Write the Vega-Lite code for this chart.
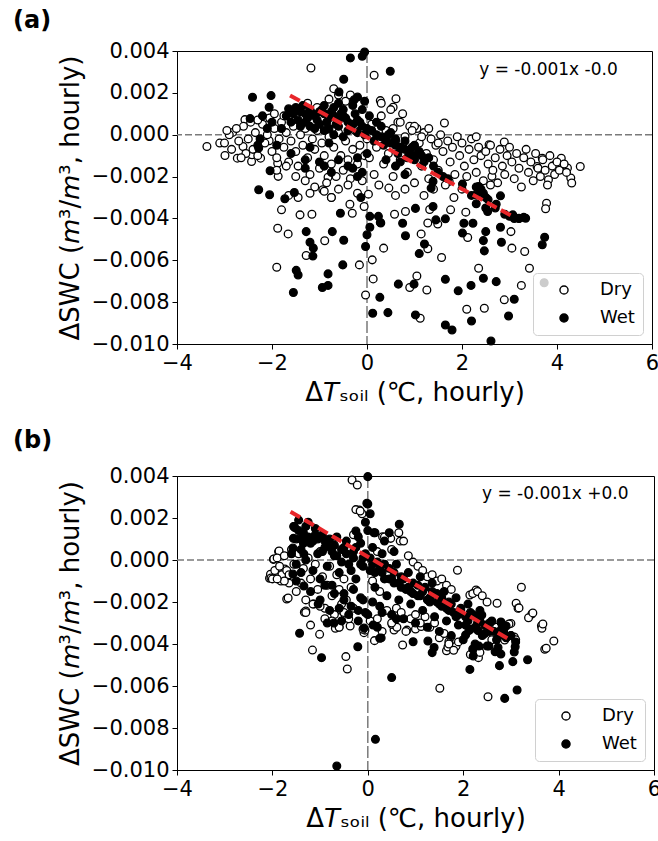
{
"$schema": "https://vega.github.io/schema/vega-lite/v6.json",
"padding": {"left": 12, "top": 8, "right": 0, "bottom": 2},
"config": {
 "font": "DejaVu Sans",
 "view": {"stroke": "black", "strokeWidth": 1},
 "axis": {"labelFont": "DejaVu Sans", "labelFontSize": 21, "labelColor": "black", "titleFont": "DejaVu Sans", "titleFontSize": 26, "titleFontWeight": "normal", "titleColor": "black", "domainColor": "black", "tickColor": "black", "tickSize": 5, "gridColor": "#b8b8b8", "gridDash": [2, 2], "gridWidth": 0.8, "labelPadding": 3, "labelFlush": false, "labelOverlap": false},
 "legend": {"orient": "bottom-right", "offset": 9, "title": null, "fillColor": "rgba(255,255,255,0.8)", "strokeColor": "#d0d0d0", "cornerRadius": 4, "padding": 8, "rowPadding": 10, "labelFont": "DejaVu Sans", "labelFontSize": 18, "labelColor": "black", "symbolType": "circle", "symbolSize": 66, "symbolStrokeColor": "black", "symbolStrokeWidth": 1.4, "symbolOffset": 14, "labelOffset": 27},
 "title": {"font": "DejaVu Sans", "fontSize": 24, "fontWeight": "bold", "anchor": "start", "frame": "group", "color": "black"}
},
"datasets": {
 "a": [
 {"g":"Dry","x":-3.37,"y":-0.00056},{"g":"Dry","x":-3.1,"y":-0.0004},{"g":"Dry","x":-2.99,"y":-0.00099},{"g":"Dry","x":-2.83,"y":0.00011},{"g":"Dry","x":-2.73,"y":-0.00112},{"g":"Dry","x":-2.61,"y":-0.00056},{"g":"Dry","x":-2.57,"y":0.00072},{"g":"Dry","x":-2.43,"y":-0.00128},{"g":"Dry","x":-2.42,"y":-0.00096},{"g":"Dry","x":-2.24,"y":-0.00112},{"g":"Dry","x":-2.17,"y":0.0008},{"g":"Dry","x":-2.06,"y":-0.00029},{"g":"Dry","x":-1.87,"y":-0.00199},{"g":"Dry","x":-1.88,"y":-0.00136},{"g":"Dry","x":-1.8,"y":-0.00359},{"g":"Dry","x":-1.88,"y":-0.00447},{"g":"Dry","x":-1.66,"y":-0.00474},{"g":"Dry","x":-1.9,"y":-0.00633},{"g":"Dry","x":-1.41,"y":-0.00383},{"g":"Dry","x":-1.16,"y":-0.0038},{"g":"Dry","x":-1.28,"y":-0.00577},{"g":"Dry","x":-0.89,"y":-0.00507},{"g":"Dry","x":-1.18,"y":0.00319},{"g":"Dry","x":-0.93,"y":-0.00263},{"g":"Dry","x":-0.75,"y":-0.003},{"g":"Dry","x":-0.82,"y":-0.00203},{"g":"Dry","x":-0.36,"y":-0.00332},{"g":"Dry","x":-0.31,"y":-0.00375},{"g":"Dry","x":-0.16,"y":-0.00622},{"g":"Dry","x":-0.03,"y":-0.00766},{"g":"Dry","x":0.03,"y":-0.00284},{"g":"Dry","x":-0.06,"y":-0.00343},{"g":"Dry","x":0.15,"y":0.00284},{"g":"Dry","x":0.28,"y":0.00163},{"g":"Dry","x":0.61,"y":0.00172},{"g":"Dry","x":0.55,"y":0.00131},{"g":"Dry","x":0.35,"y":-0.00542},{"g":"Dry","x":0.11,"y":-0.00598},{"g":"Dry","x":0.13,"y":-0.00689},{"g":"Dry","x":0.46,"y":-0.00255},{"g":"Dry","x":0.58,"y":-0.0038},{"g":"Dry","x":0.81,"y":-0.00367},{"g":"Dry","x":0.9,"y":-0.0073},{"g":"Dry","x":1.12,"y":-0.00877},{"g":"Dry","x":1.14,"y":-0.00474},{"g":"Dry","x":1.28,"y":-0.00545},{"g":"Dry","x":1.26,"y":-0.00742},{"g":"Dry","x":1.32,"y":-0.00357},{"g":"Dry","x":1.57,"y":-0.00587},{"g":"Dry","x":1.63,"y":0.00056},{"g":"Dry","x":1.73,"y":-0.00223},{"g":"Dry","x":1.83,"y":-0.003},{"g":"Dry","x":1.76,"y":-0.00359},{"g":"Dry","x":2.08,"y":-0.0037},{"g":"Dry","x":2.12,"y":-0.00491},{"g":"Dry","x":2.1,"y":-0.00834},{"g":"Dry","x":2.35,"y":-0.00638},{"g":"Dry","x":2.47,"y":-0.00829},{"g":"Dry","x":2.57,"y":-0.00048},{"g":"Dry","x":2.63,"y":-0.00199},{"g":"Dry","x":2.89,"y":-0.00035},{"g":"Dry","x":2.89,"y":-0.00789},{"g":"Dry","x":3.03,"y":-0.00463},{"g":"Dry","x":3.05,"y":-0.00542},{"g":"Dry","x":3.25,"y":-0.0072},{"g":"Dry","x":3.32,"y":-0.00558},{"g":"Dry","x":3.42,"y":-0.00638},{"g":"Dry","x":3.58,"y":-0.00152},{"g":"Dry","x":3.78,"y":-0.00327},{"g":"Dry","x":3.76,"y":-0.00354},{"g":"Dry","x":4.09,"y":-0.00112},{"g":"Dry","x":4.22,"y":-0.00159},{"g":"Dry","x":4.29,"y":-0.00207},{"g":"Dry","x":4.31,"y":-0.00231},{"g":"Dry","x":4.49,"y":-0.00152},{"g":"Dry","x":3.82,"y":-0.00215},{"g":"Dry","x":3.69,"y":-0.00112},{"g":"Dry","x":3.96,"y":-0.00144},{"g":"Dry","x":1.28,"y":-0.00422},{"g":"Dry","x":1.49,"y":-0.00427},{"g":"Dry","x":1.05,"y":-0.00675},
 {"g":"Dry","x":-2.9,"y":0.0},{"g":"Dry","x":-2.7,"y":-0.0003},{"g":"Dry","x":-2.6,"y":0.0004},{"g":"Dry","x":-2.5,"y":-0.0002},{"g":"Dry","x":-2.45,"y":0.0006},{"g":"Dry","x":-2.4,"y":-0.0007},{"g":"Dry","x":-2.35,"y":0.0001},{"g":"Dry","x":-2.3,"y":-0.001},{"g":"Dry","x":-2.2,"y":0.0005},{"g":"Dry","x":-2.15,"y":-0.0004},{"g":"Dry","x":-2.1,"y":0.0},{"g":"Dry","x":-2.0,"y":-0.0008},{"g":"Dry","x":-1.95,"y":0.0003},{"g":"Dry","x":-1.9,"y":-0.0011},{"g":"Dry","x":-1.85,"y":-0.0002},{"g":"Dry","x":-1.8,"y":0.0006},{"g":"Dry","x":-1.75,"y":-0.0006},{"g":"Dry","x":-1.7,"y":0.0001},{"g":"Dry","x":-1.65,"y":-0.0013},{"g":"Dry","x":-1.6,"y":-0.0003},{"g":"Dry","x":-1.55,"y":0.0004},{"g":"Dry","x":-1.5,"y":-0.0008},{"g":"Dry","x":-1.45,"y":-0.0015},{"g":"Dry","x":-1.4,"y":0.0},{"g":"Dry","x":-1.35,"y":-0.0005},{"g":"Dry","x":-1.3,"y":0.0003},{"g":"Dry","x":-1.25,"y":-0.0011},{"g":"Dry","x":-1.2,"y":-0.0019},{"g":"Dry","x":-1.15,"y":-0.0002},{"g":"Dry","x":-1.1,"y":-0.0007},{"g":"Dry","x":-1.05,"y":0.0002},{"g":"Dry","x":-1.0,"y":-0.0016},{"g":"Dry","x":-0.95,"y":-0.0004},{"g":"Dry","x":-0.9,"y":-0.001},{"g":"Dry","x":-0.85,"y":-0.0023},{"g":"Dry","x":-0.8,"y":-0.0001},{"g":"Dry","x":-0.75,"y":-0.0014},{"g":"Dry","x":-0.7,"y":-0.0006},{"g":"Dry","x":-0.65,"y":-0.002},{"g":"Dry","x":-0.6,"y":0.0001},{"g":"Dry","x":-0.55,"y":-0.001},{"g":"Dry","x":-0.5,"y":-0.0017},{"g":"Dry","x":-0.45,"y":-0.0003},{"g":"Dry","x":-0.4,"y":-0.0012},{"g":"Dry","x":-0.35,"y":-0.0021},{"g":"Dry","x":-0.3,"y":-0.0007},{"g":"Dry","x":-0.25,"y":0.0002},{"g":"Dry","x":-0.2,"y":-0.0014},{"g":"Dry","x":-0.15,"y":-0.0005},{"g":"Dry","x":-0.1,"y":-0.0022},{"g":"Dry","x":-0.05,"y":-0.001},{"g":"Dry","x":0.0,"y":-0.0002},{"g":"Dry","x":-2.55,"y":-0.0009},{"g":"Dry","x":-2.75,"y":0.0003},{"g":"Dry","x":-2.85,"y":-0.0007},{"g":"Dry","x":-3.0,"y":-0.0004},{"g":"Dry","x":-2.95,"y":0.0002},{"g":"Dry","x":-2.65,"y":-0.0011},{"g":"Dry","x":-2.3,"y":0.0007},{"g":"Dry","x":-2.05,"y":0.0008},{"g":"Dry","x":-1.95,"y":0.001},{"g":"Dry","x":-1.75,"y":0.0009},{"g":"Dry","x":-1.6,"y":0.0011},{"g":"Dry","x":-1.25,"y":0.0015},{"g":"Dry","x":-1.05,"y":0.0013},{"g":"Dry","x":-0.8,"y":0.0017},{"g":"Dry","x":-0.6,"y":0.0019},{"g":"Dry","x":-0.45,"y":0.0016},{"g":"Dry","x":-0.7,"y":0.0022},{"g":"Dry","x":-0.35,"y":0.0019},{"g":"Dry","x":-1.9,"y":-0.0017},{"g":"Dry","x":-1.7,"y":-0.0015},{"g":"Dry","x":-1.5,"y":-0.002},{"g":"Dry","x":-1.3,"y":-0.0022},{"g":"Dry","x":-1.1,"y":-0.0025},{"g":"Dry","x":-0.9,"y":-0.0027},{"g":"Dry","x":-0.6,"y":-0.0026},{"g":"Dry","x":-0.4,"y":-0.0024},{"g":"Dry","x":-0.2,"y":-0.0028},{"g":"Dry","x":-1.65,"y":-0.0029},{"g":"Dry","x":-1.45,"y":-0.003},{"g":"Dry","x":-0.75,"y":-0.003},{"g":"Dry","x":-1.2,"y":-0.0028},
 {"g":"Dry","x":0.1,"y":0.0005},{"g":"Dry","x":0.2,"y":-0.0006},{"g":"Dry","x":0.3,"y":0.0009},{"g":"Dry","x":0.35,"y":-0.0014},{"g":"Dry","x":0.4,"y":0.0002},{"g":"Dry","x":0.45,"y":-0.0009},{"g":"Dry","x":0.5,"y":0.0012},{"g":"Dry","x":0.55,"y":-0.002},{"g":"Dry","x":0.6,"y":-0.0003},{"g":"Dry","x":0.65,"y":0.0006},{"g":"Dry","x":0.7,"y":-0.0012},{"g":"Dry","x":0.75,"y":0.001},{"g":"Dry","x":0.8,"y":-0.0001},{"g":"Dry","x":0.85,"y":-0.0018},{"g":"Dry","x":0.9,"y":0.0004},{"g":"Dry","x":0.95,"y":-0.0008},{"g":"Dry","x":1.0,"y":-0.0023},{"g":"Dry","x":1.05,"y":0.0003},{"g":"Dry","x":1.1,"y":-0.0004},{"g":"Dry","x":1.15,"y":-0.0015},{"g":"Dry","x":1.2,"y":0.0001},{"g":"Dry","x":1.25,"y":-0.0009},{"g":"Dry","x":1.3,"y":-0.0021},{"g":"Dry","x":1.35,"y":-0.0002},{"g":"Dry","x":1.4,"y":-0.0012},{"g":"Dry","x":1.45,"y":-0.0005},{"g":"Dry","x":1.5,"y":-0.0017},{"g":"Dry","x":1.55,"y":0.0},{"g":"Dry","x":1.6,"y":-0.0008},{"g":"Dry","x":1.65,"y":-0.0024},{"g":"Dry","x":1.7,"y":-0.0003},{"g":"Dry","x":1.75,"y":-0.0013},{"g":"Dry","x":1.8,"y":-0.0006},{"g":"Dry","x":1.85,"y":-0.0019},{"g":"Dry","x":1.9,"y":-0.0001},{"g":"Dry","x":1.95,"y":-0.001},{"g":"Dry","x":2.0,"y":-0.0004},{"g":"Dry","x":2.05,"y":-0.0015},{"g":"Dry","x":2.1,"y":-0.002},{"g":"Dry","x":2.15,"y":-0.0007},{"g":"Dry","x":2.2,"y":-0.0002},{"g":"Dry","x":2.25,"y":-0.0012},{"g":"Dry","x":2.3,"y":-0.0018},{"g":"Dry","x":2.35,"y":-0.0006},{"g":"Dry","x":2.4,"y":-0.001},{"g":"Dry","x":2.45,"y":-0.0022},{"g":"Dry","x":2.5,"y":-0.0008},{"g":"Dry","x":2.55,"y":-0.0014},{"g":"Dry","x":2.6,"y":-0.0005},{"g":"Dry","x":2.65,"y":-0.0017},{"g":"Dry","x":2.7,"y":-0.0011},{"g":"Dry","x":2.75,"y":-0.0023},{"g":"Dry","x":2.8,"y":-0.0007},{"g":"Dry","x":2.85,"y":-0.0015},{"g":"Dry","x":2.9,"y":-0.0019},{"g":"Dry","x":2.95,"y":-0.001},{"g":"Dry","x":3.0,"y":-0.0006},{"g":"Dry","x":3.05,"y":-0.0013},{"g":"Dry","x":3.1,"y":-0.0021},{"g":"Dry","x":3.15,"y":-0.0009},{"g":"Dry","x":3.2,"y":-0.0016},{"g":"Dry","x":3.25,"y":-0.0025},{"g":"Dry","x":3.3,"y":-0.0011},{"g":"Dry","x":3.35,"y":-0.0007},{"g":"Dry","x":3.4,"y":-0.0018},{"g":"Dry","x":3.45,"y":-0.0013},{"g":"Dry","x":3.5,"y":-0.0022},{"g":"Dry","x":3.55,"y":-0.0009},{"g":"Dry","x":3.6,"y":-0.0016},{"g":"Dry","x":3.65,"y":-0.002},{"g":"Dry","x":3.7,"y":-0.0012},{"g":"Dry","x":3.75,"y":-0.0017},{"g":"Dry","x":3.8,"y":-0.0024},{"g":"Dry","x":3.85,"y":-0.001},{"g":"Dry","x":3.9,"y":-0.0015},{"g":"Dry","x":3.95,"y":-0.0019},{"g":"Dry","x":4.0,"y":-0.0013},{"g":"Dry","x":4.05,"y":-0.0017},{"g":"Dry","x":4.15,"y":-0.0014},{"g":"Dry","x":4.2,"y":-0.0018},{"g":"Dry","x":0.3,"y":0.0015},{"g":"Dry","x":0.7,"y":0.0006},{"g":"Dry","x":0.55,"y":0.0003},{"g":"Dry","x":1.0,"y":0.0004},{"g":"Dry","x":1.15,"y":-0.0001},{"g":"Dry","x":0.15,"y":-0.0019},{"g":"Dry","x":0.25,"y":-0.0024},{"g":"Dry","x":0.05,"y":-0.0011},{"g":"Dry","x":2.0,"y":-0.0026},{"g":"Dry","x":2.6,"y":-0.0024},{"g":"Dry","x":1.4,"y":-0.0026},{"g":"Dry","x":0.8,"y":-0.0026},{"g":"Dry","x":0.6,"y":-0.0029},{"g":"Dry","x":1.2,"y":-0.0029},{"g":"Dry","x":1.5,"y":-0.0004},{"g":"Dry","x":0.95,"y":0.0002},{"g":"Dry","x":1.3,"y":0.0003},{"g":"Dry","x":2.3,"y":-0.0001},
 {"g":"Wet","x":-0.35,"y":0.00367},{"g":"Wet","x":-0.1,"y":0.00375},{"g":"Wet","x":-0.05,"y":0.00395},{"g":"Wet","x":0.49,"y":0.00303},{"g":"Wet","x":-0.49,"y":0.00265},{"g":"Wet","x":-0.59,"y":0.00204},{"g":"Wet","x":-2.41,"y":0.00179},{"g":"Wet","x":-2.02,"y":0.00187},{"g":"Wet","x":-0.27,"y":0.00167},{"g":"Wet","x":-2.46,"y":0.00077},{"g":"Wet","x":-2.06,"y":0.00131},{"g":"Wet","x":-1.65,"y":0.00124},{"g":"Wet","x":-2.28,"y":-0.00064},{"g":"Wet","x":-2.04,"y":-0.00172},{"g":"Wet","x":-2.28,"y":-0.00263},{"g":"Wet","x":-2.05,"y":-0.00287},{"g":"Wet","x":-1.73,"y":-0.00306},{"g":"Wet","x":-1.53,"y":-0.00276},{"g":"Wet","x":-1.28,"y":-0.00463},{"g":"Wet","x":-1.2,"y":-0.00514},{"g":"Wet","x":-1.13,"y":-0.00542},{"g":"Wet","x":-1.14,"y":-0.0058},{"g":"Wet","x":-0.73,"y":-0.00463},{"g":"Wet","x":-1.49,"y":-0.00648},{"g":"Wet","x":-1.45,"y":-0.0067},{"g":"Wet","x":-1.55,"y":-0.00754},{"g":"Wet","x":-0.94,"y":-0.0073},{"g":"Wet","x":-0.82,"y":-0.0072},{"g":"Wet","x":-0.82,"y":-0.00665},{"g":"Wet","x":-0.51,"y":-0.00622},{"g":"Wet","x":-0.49,"y":-0.00504},{"g":"Wet","x":-0.56,"y":-0.00375},{"g":"Wet","x":-0.13,"y":-0.003},{"g":"Wet","x":-0.03,"y":-0.00534},{"g":"Wet","x":0.06,"y":-0.0039},{"g":"Wet","x":0.12,"y":-0.00853},{"g":"Wet","x":0.44,"y":-0.0085},{"g":"Wet","x":0.27,"y":-0.00777},{"g":"Wet","x":0.24,"y":-0.0039},{"g":"Wet","x":0.28,"y":-0.00419},{"g":"Wet","x":0.06,"y":-0.00442},{"g":"Wet","x":0.0,"y":-0.00478},{"g":"Wet","x":0.66,"y":-0.00714},{"g":"Wet","x":0.75,"y":-0.00423},{"g":"Wet","x":0.81,"y":-0.00483},{"g":"Wet","x":1.02,"y":-0.00352},{"g":"Wet","x":0.99,"y":-0.00714},{"g":"Wet","x":1.02,"y":-0.00861},{"g":"Wet","x":1.1,"y":-0.00568},{"g":"Wet","x":1.21,"y":-0.00522},{"g":"Wet","x":1.39,"y":-0.00343},{"g":"Wet","x":1.45,"y":-0.00407},{"g":"Wet","x":1.65,"y":-0.00402},{"g":"Wet","x":1.65,"y":-0.00691},{"g":"Wet","x":1.65,"y":-0.00909},{"g":"Wet","x":1.79,"y":-0.00933},{"g":"Wet","x":1.92,"y":-0.00746},{"g":"Wet","x":2.01,"y":-0.0047},{"g":"Wet","x":2.04,"y":-0.00423},{"g":"Wet","x":2.19,"y":-0.0072},{"g":"Wet","x":2.2,"y":-0.0089},{"g":"Wet","x":2.23,"y":-0.00423},{"g":"Wet","x":2.3,"y":-0.00287},{"g":"Wet","x":2.45,"y":-0.00506},{"g":"Wet","x":2.47,"y":-0.00555},{"g":"Wet","x":2.5,"y":-0.00463},{"g":"Wet","x":2.45,"y":-0.00686},{"g":"Wet","x":2.54,"y":-0.00367},{"g":"Wet","x":2.61,"y":-0.00986},{"g":"Wet","x":2.72,"y":-0.00702},{"g":"Wet","x":2.81,"y":-0.00442},{"g":"Wet","x":2.83,"y":-0.00514},{"g":"Wet","x":2.81,"y":-0.00292},{"g":"Wet","x":2.98,"y":-0.00866},{"g":"Wet","x":3.1,"y":-0.00786},{"g":"Wet","x":3.2,"y":-0.00399},{"g":"Wet","x":3.34,"y":-0.00399},{"g":"Wet","x":3.69,"y":-0.00526},{"g":"Wet","x":3.74,"y":-0.0049},{"g":"Wet","x":3.73,"y":-0.00707},{"g":"Wet","x":2.01,"y":-0.00236},{"g":"Wet","x":2.35,"y":-0.00247},{"g":"Wet","x":2.72,"y":-0.00332},{"g":"Wet","x":3.07,"y":-0.00383},{"g":"Wet","x":1.39,"y":-0.00223},{"g":"Wet","x":1.35,"y":-0.00255},{"g":"Wet","x":0.29,"y":-0.00422},
 {"g":"Wet","x":-1.5,"y":0.0013},{"g":"Wet","x":-1.4,"y":0.0011},{"g":"Wet","x":-1.3,"y":0.001},{"g":"Wet","x":-1.2,"y":0.0012},{"g":"Wet","x":-1.1,"y":0.0009},{"g":"Wet","x":-1.0,"y":0.0011},{"g":"Wet","x":-0.9,"y":0.001},{"g":"Wet","x":-0.8,"y":0.0008},{"g":"Wet","x":-0.7,"y":0.0009},{"g":"Wet","x":-0.6,"y":0.0007},{"g":"Wet","x":-0.5,"y":0.0009},{"g":"Wet","x":-0.4,"y":0.0006},{"g":"Wet","x":-0.3,"y":0.0005},{"g":"Wet","x":-0.2,"y":0.0007},{"g":"Wet","x":-0.1,"y":0.0004},{"g":"Wet","x":0.0,"y":0.0003},{"g":"Wet","x":0.1,"y":0.0002},{"g":"Wet","x":0.2,"y":0.0},{"g":"Wet","x":0.3,"y":-0.0001},{"g":"Wet","x":0.4,"y":-0.0002},{"g":"Wet","x":0.5,"y":-0.0004},{"g":"Wet","x":0.6,"y":-0.0005},{"g":"Wet","x":0.7,"y":-0.0006},{"g":"Wet","x":0.8,"y":-0.0007},{"g":"Wet","x":0.9,"y":-0.0009},{"g":"Wet","x":1.0,"y":-0.001},{"g":"Wet","x":-1.3,"y":0.0006},{"g":"Wet","x":-1.2,"y":0.0004},{"g":"Wet","x":-1.0,"y":0.0005},{"g":"Wet","x":-0.8,"y":0.0003},{"g":"Wet","x":-0.6,"y":0.0004},{"g":"Wet","x":-0.4,"y":0.0002},{"g":"Wet","x":-0.2,"y":0.0001},{"g":"Wet","x":-1.45,"y":0.0007},{"g":"Wet","x":-1.55,"y":0.001},{"g":"Wet","x":-0.9,"y":0.0014},{"g":"Wet","x":-0.7,"y":0.0013},{"g":"Wet","x":-0.5,"y":0.0012},{"g":"Wet","x":-0.3,"y":0.0014},{"g":"Wet","x":-0.1,"y":0.0012},{"g":"Wet","x":-0.25,"y":0.001},{"g":"Wet","x":0.05,"y":0.0009},{"g":"Wet","x":0.2,"y":0.0006},{"g":"Wet","x":0.3,"y":0.0004},{"g":"Wet","x":0.5,"y":0.0001},{"g":"Wet","x":0.6,"y":-0.0002},{"g":"Wet","x":0.8,"y":-0.0003},{"g":"Wet","x":1.0,"y":-0.0005},{"g":"Wet","x":1.1,"y":-0.0008},{"g":"Wet","x":1.3,"y":-0.0011},{"g":"Wet","x":-2.2,"y":0.0009},{"g":"Wet","x":-2.0,"y":0.0006},{"g":"Wet","x":-1.8,"y":0.0003},{"g":"Wet","x":-1.9,"y":-0.0005},{"g":"Wet","x":-1.6,"y":-0.0009},{"g":"Wet","x":-1.2,"y":-0.0006},{"g":"Wet","x":-0.8,"y":-0.0004},{"g":"Wet","x":-0.6,"y":-0.0012},{"g":"Wet","x":-0.4,"y":-0.0015},{"g":"Wet","x":-0.2,"y":-0.0011},{"g":"Wet","x":-0.1,"y":-0.0018},{"g":"Wet","x":0.0,"y":-0.0009},{"g":"Wet","x":-1.3,"y":-0.0012},{"g":"Wet","x":-1.0,"y":-0.0013},{"g":"Wet","x":-0.9,"y":-0.0015},{"g":"Wet","x":-0.2,"y":-0.002},{"g":"Wet","x":0.4,"y":-0.0012},{"g":"Wet","x":0.6,"y":-0.0015},{"g":"Wet","x":0.8,"y":-0.0019},{"g":"Wet","x":0.7,"y":-0.0013},{"g":"Wet","x":-2.3,"y":-0.0005},{"g":"Wet","x":-2.25,"y":-0.0002},{"g":"Wet","x":-2.1,"y":0.0003},{"g":"Wet","x":-1.7,"y":0.0009},{"g":"Wet","x":-1.3,"y":-0.0016},{"g":"Wet","x":-0.75,"y":-0.0018},{"g":"Wet","x":-0.3,"y":-0.0016},{"g":"Wet","x":2.3,"y":-0.0025},{"g":"Wet","x":2.4,"y":-0.0026},{"g":"Wet","x":2.45,"y":-0.0028},{"g":"Wet","x":2.5,"y":-0.003},{"g":"Wet","x":2.55,"y":-0.0031},{"g":"Wet","x":2.2,"y":-0.0029},{"g":"Wet","x":2.3,"y":-0.0033},{"g":"Wet","x":2.5,"y":-0.0035},{"g":"Wet","x":2.7,"y":-0.0035},{"g":"Wet","x":2.9,"y":-0.0038},{"g":"Wet","x":3.0,"y":-0.0039},{"g":"Wet","x":3.1,"y":-0.004},{"g":"Wet","x":3.2,"y":-0.004},{"g":"Wet","x":3.3,"y":-0.00395},{"g":"Wet","x":1.4,"y":-0.0015},{"g":"Wet","x":1.5,"y":-0.0018},{"g":"Wet","x":1.6,"y":-0.002},{"g":"Wet","x":1.7,"y":-0.0021},{"g":"Wet","x":1.2,"y":-0.0013},{"g":"Wet","x":1.0,"y":-0.0012},
 {"g":"Wet","x":-1.45,"y":0.0012},{"g":"Wet","x":-1.35,"y":0.0014},{"g":"Wet","x":-1.25,"y":0.0008},{"g":"Wet","x":-1.15,"y":0.001},{"g":"Wet","x":-1.05,"y":0.0007},{"g":"Wet","x":-0.95,"y":0.0012},{"g":"Wet","x":-0.85,"y":0.0006},{"g":"Wet","x":-0.75,"y":0.0011},{"g":"Wet","x":-0.65,"y":0.0005},{"g":"Wet","x":-0.55,"y":0.001},{"g":"Wet","x":-0.45,"y":0.0008},{"g":"Wet","x":-0.35,"y":0.0003},{"g":"Wet","x":-0.15,"y":0.0006},{"g":"Wet","x":-0.05,"y":0.0},{"g":"Wet","x":0.15,"y":-0.0003},{"g":"Wet","x":0.35,"y":-0.0005},{"g":"Wet","x":0.45,"y":0.0},{"g":"Wet","x":0.65,"y":-0.0009},{"g":"Wet","x":0.85,"y":-0.0011},{"g":"Wet","x":0.95,"y":-0.0006},{"g":"Wet","x":1.15,"y":-0.001},{"g":"Wet","x":-1.1,"y":0.0003},{"g":"Wet","x":-0.9,"y":0.0002},{"g":"Wet","x":-0.7,"y":0.0},{"g":"Wet","x":-0.5,"y":-0.0001},{"g":"Wet","x":-1.6,"y":0.0006},{"g":"Wet","x":-1.4,"y":0.0004},{"g":"Wet","x":-0.05,"y":0.0016},{"g":"Wet","x":-0.2,"y":0.0018},{"g":"Wet","x":-0.6,"y":0.0015}
 ],
 "b": [
 {"g":"Dry","x":-0.33,"y":0.00381},{"g":"Dry","x":-0.22,"y":0.00357},{"g":"Dry","x":-0.18,"y":0.00238},{"g":"Dry","x":-0.25,"y":0.0024},{"g":"Dry","x":-0.12,"y":0.0022},{"g":"Dry","x":0.48,"y":0.00103},{"g":"Dry","x":0.31,"y":0.00111},{"g":"Dry","x":-1.16,"y":-0.00429},{"g":"Dry","x":-0.46,"y":-0.0046},{"g":"Dry","x":-0.43,"y":-0.00519},{"g":"Dry","x":-1.01,"y":-0.00354},{"g":"Dry","x":-1.33,"y":-0.00249},{"g":"Dry","x":-1.7,"y":-0.00186},{"g":"Dry","x":-2.06,"y":-0.00087},{"g":"Dry","x":-2.04,"y":-0.00068},{"g":"Dry","x":-1.98,"y":0.00003},{"g":"Dry","x":-1.87,"y":0.0004},{"g":"Dry","x":-1.82,"y":-0.001},{"g":"Dry","x":1.51,"y":-0.00611},{"g":"Dry","x":2.52,"y":-0.00651},{"g":"Dry","x":3.22,"y":-0.0013},{"g":"Dry","x":3.11,"y":-0.00206},{"g":"Dry","x":3.15,"y":-0.0023},{"g":"Dry","x":3.44,"y":-0.00257},{"g":"Dry","x":3.37,"y":-0.00275},{"g":"Dry","x":3.64,"y":-0.00313},{"g":"Dry","x":3.65,"y":-0.00325},{"g":"Dry","x":3.9,"y":-0.00386},{"g":"Dry","x":3.71,"y":-0.00425},{"g":"Dry","x":2.71,"y":-0.00206},{"g":"Dry","x":2.27,"y":-0.00143},{"g":"Dry","x":2.14,"y":-0.00167},{"g":"Dry","x":1.88,"y":-0.00049},{"g":"Dry","x":0.73,"y":-0.00405},{"g":"Dry","x":1.0,"y":-0.00329},{"g":"Dry","x":1.65,"y":-0.00432},{"g":"Dry","x":1.83,"y":-0.00416},{"g":"Dry","x":1.7,"y":-0.00389},{"g":"Dry","x":2.32,"y":-0.00465},{"g":"Dry","x":2.87,"y":-0.00381},{"g":"Dry","x":2.93,"y":-0.00365},{"g":"Dry","x":3.0,"y":-0.00302},{"g":"Dry","x":0.55,"y":-0.00333},{"g":"Dry","x":0.14,"y":-0.00384},{"g":"Dry","x":-0.08,"y":-0.00346},{"g":"Dry","x":-0.37,"y":-0.00314},{"g":"Dry","x":-0.68,"y":-0.00325},{"g":"Dry","x":-0.63,"y":-0.00273},{"g":"Dry","x":-0.6,"y":-0.00319},{"g":"Dry","x":-0.06,"y":-0.00334},{"g":"Dry","x":0.51,"y":-0.00307},{"g":"Dry","x":0.61,"y":-0.0032},{"g":"Dry","x":0.82,"y":-0.00334},{"g":"Dry","x":1.12,"y":-0.00317},{"g":"Dry","x":1.74,"y":-0.00367},{"g":"Dry","x":1.68,"y":-0.00414},{"g":"Dry","x":1.85,"y":-0.0041},{"g":"Dry","x":2.33,"y":-0.00428},{"g":"Dry","x":2.96,"y":-0.00305},{"g":"Dry","x":3.07,"y":-0.00367},{"g":"Dry","x":3.46,"y":-0.00252},{"g":"Dry","x":3.67,"y":-0.00305},{"g":"Dry","x":3.74,"y":-0.0042},{"g":"Dry","x":3.17,"y":-0.00228},{"g":"Dry","x":-1.97,"y":0.00005},{"g":"Dry","x":-1.86,"y":0.00043},{"g":"Dry","x":-2.03,"y":-0.00086},{"g":"Dry","x":-1.78,"y":-0.0009},{"g":"Dry","x":-1.67,"y":-0.00181},{"g":"Dry","x":-1.74,"y":-0.00043},{"g":"Dry","x":-1.3,"y":-0.00243},{"g":"Dry","x":-1.13,"y":-0.0021},{"g":"Dry","x":0.68,"y":0.0009},{"g":"Dry","x":-0.16,"y":0.00233},{"g":"Dry","x":-0.21,"y":0.00114},
 {"g":"Dry","x":-2.0,"y":-0.0009},{"g":"Dry","x":-1.95,"y":-0.0005},{"g":"Dry","x":-1.9,"y":0.0001},{"g":"Dry","x":-1.85,"y":-0.0003},{"g":"Dry","x":-1.8,"y":-0.0007},{"g":"Dry","x":-1.75,"y":0.0002},{"g":"Dry","x":-1.7,"y":-0.0005},{"g":"Dry","x":-1.65,"y":-0.0011},{"g":"Dry","x":-1.6,"y":0.0005},{"g":"Dry","x":-1.55,"y":-0.0002},{"g":"Dry","x":-1.5,"y":-0.0015},{"g":"Dry","x":-1.45,"y":0.0003},{"g":"Dry","x":-1.4,"y":-0.0011},{"g":"Dry","x":-1.35,"y":-0.0004},{"g":"Dry","x":-1.3,"y":-0.0019},{"g":"Dry","x":-1.25,"y":0.0001},{"g":"Dry","x":-1.2,"y":-0.0009},{"g":"Dry","x":-1.15,"y":-0.0021},{"g":"Dry","x":-1.1,"y":-0.0002},{"g":"Dry","x":-1.05,"y":-0.0014},{"g":"Dry","x":-1.0,"y":0.0004},{"g":"Dry","x":-0.95,"y":-0.0008},{"g":"Dry","x":-0.9,"y":-0.0023},{"g":"Dry","x":-0.85,"y":-0.0012},{"g":"Dry","x":-0.8,"y":-0.0003},{"g":"Dry","x":-0.75,"y":-0.0017},{"g":"Dry","x":-0.7,"y":-0.0026},{"g":"Dry","x":-0.65,"y":-0.0007},{"g":"Dry","x":-0.6,"y":-0.0014},{"g":"Dry","x":-0.55,"y":-0.0021},{"g":"Dry","x":-0.5,"y":-0.0009},{"g":"Dry","x":-0.45,"y":-0.0019},{"g":"Dry","x":-0.4,"y":-0.0028},{"g":"Dry","x":-0.35,"y":-0.0013},{"g":"Dry","x":-0.3,"y":-0.0023},{"g":"Dry","x":-0.3,"y":0.0012},{"g":"Dry","x":-0.1,"y":-0.0033},{"g":"Dry","x":0.05,"y":-0.0029},{"g":"Dry","x":0.2,"y":-0.0028},{"g":"Dry","x":0.3,"y":-0.0034},{"g":"Dry","x":0.4,"y":-0.0024},{"g":"Dry","x":0.5,"y":-0.003},{"g":"Dry","x":0.6,"y":-0.0023},{"g":"Dry","x":0.65,"y":0.0013},{"g":"Dry","x":0.75,"y":0.0009},{"g":"Dry","x":0.85,"y":0.0002},{"g":"Dry","x":0.95,"y":-0.0001},{"g":"Dry","x":1.05,"y":-0.0003},{"g":"Dry","x":1.15,"y":-0.0005},{"g":"Dry","x":1.25,"y":-0.0008},{"g":"Dry","x":1.35,"y":-0.0007},{"g":"Dry","x":1.45,"y":-0.001},{"g":"Dry","x":1.55,"y":-0.0009},{"g":"Dry","x":1.65,"y":-0.0012},{"g":"Dry","x":1.75,"y":-0.0014},{"g":"Dry","x":0.7,"y":-0.0025},{"g":"Dry","x":0.8,"y":-0.0034},{"g":"Dry","x":0.9,"y":-0.0028},{"g":"Dry","x":1.0,"y":-0.0026},{"g":"Dry","x":1.1,"y":-0.003},{"g":"Dry","x":1.2,"y":-0.0027},{"g":"Dry","x":1.3,"y":-0.0032},{"g":"Dry","x":1.4,"y":-0.003},{"g":"Dry","x":1.5,"y":-0.0037},{"g":"Dry","x":1.6,"y":-0.0035},{"g":"Dry","x":1.7,"y":-0.004},{"g":"Dry","x":1.8,"y":-0.0043},{"g":"Dry","x":1.9,"y":-0.0039},{"g":"Dry","x":2.2,"y":-0.0016},{"g":"Dry","x":2.3,"y":-0.0015},{"g":"Dry","x":2.4,"y":-0.0017},{"g":"Dry","x":2.5,"y":-0.002},{"g":"Dry","x":2.6,"y":-0.0038},{"g":"Dry","x":2.7,"y":-0.0032},{"g":"Dry","x":2.8,"y":-0.003},{"g":"Dry","x":3.0,"y":-0.0036},{"g":"Dry","x":3.1,"y":-0.0038},{"g":"Dry","x":2.15,"y":-0.0045},{"g":"Dry","x":2.35,"y":-0.0044},{"g":"Dry","x":0.35,"y":0.0011},{"g":"Dry","x":0.5,"y":0.0005},{"g":"Dry","x":0.2,"y":0.0004},{"g":"Dry","x":0.1,"y":-0.001},{"g":"Dry","x":0.25,"y":-0.0015},{"g":"Dry","x":-1.2,"y":-0.0031},{"g":"Dry","x":-1.3,"y":-0.0025},{"g":"Dry","x":-1.0,"y":-0.0022},{"g":"Dry","x":-1.65,"y":-0.0007},{"g":"Dry","x":-1.75,"y":-0.001},{"g":"Dry","x":-1.9,"y":-0.0009},{"g":"Dry","x":-0.6,"y":-0.0032},{"g":"Dry","x":-0.75,"y":-0.0029},{"g":"Dry","x":-0.5,"y":-0.0025},{"g":"Dry","x":-0.9,"y":-0.0028},
 {"g":"Wet","x":-0.02,"y":0.0027},{"g":"Wet","x":0.0,"y":0.00397},{"g":"Wet","x":0.66,"y":0.0017},{"g":"Wet","x":-1.43,"y":-0.00349},{"g":"Wet","x":-0.97,"y":-0.00465},{"g":"Wet","x":-0.21,"y":-0.00413},{"g":"Wet","x":0.5,"y":-0.0056},{"g":"Wet","x":0.16,"y":-0.00854},{"g":"Wet","x":-0.65,"y":-0.00981},{"g":"Wet","x":2.14,"y":-0.00521},{"g":"Wet","x":2.76,"y":-0.00503},{"g":"Wet","x":2.87,"y":-0.00659},{"g":"Wet","x":3.13,"y":-0.00619},{"g":"Wet","x":3.04,"y":-0.00484},{"g":"Wet","x":3.35,"y":-0.00475},{"g":"Wet","x":3.09,"y":-0.00413},{"g":"Wet","x":2.67,"y":-0.00437},{"g":"Wet","x":2.21,"y":-0.00457},{"g":"Wet","x":2.39,"y":-0.00262},{"g":"Wet","x":2.05,"y":-0.00357},{"g":"Wet","x":1.35,"y":-0.00441},{"g":"Wet","x":1.26,"y":-0.00386},{"g":"Wet","x":0.95,"y":-0.00389},{"g":"Wet","x":0.25,"y":-0.00373},{"g":"Wet","x":0.11,"y":-0.0031},{"g":"Wet","x":-1.53,"y":0.00154},{"g":"Wet","x":-1.56,"y":0.00103},{"g":"Wet","x":-0.71,"y":-0.003},{"g":"Wet","x":-0.08,"y":-0.00324},{"g":"Wet","x":0.28,"y":-0.00371},{"g":"Wet","x":1.39,"y":-0.00417},{"g":"Wet","x":2.12,"y":-0.00336},{"g":"Wet","x":2.2,"y":-0.00424},{"g":"Wet","x":2.33,"y":-0.0041},{"g":"Wet","x":2.54,"y":-0.0041},{"g":"Wet","x":2.73,"y":-0.00417},{"g":"Wet","x":2.79,"y":-0.00448},{"g":"Wet","x":3.07,"y":-0.00438},{"g":"Wet","x":2.79,"y":-0.00295},{"g":"Wet","x":2.9,"y":-0.00314},{"g":"Wet","x":2.31,"y":-0.00336},{"g":"Wet","x":0.0,"y":0.00267},{"g":"Wet","x":-0.25,"y":0.00138},{"g":"Wet","x":0.13,"y":0.0013},{"g":"Wet","x":-1.55,"y":0.0016},{"g":"Wet","x":-1.4,"y":0.001},{"g":"Wet","x":-1.57,"y":0.00057},{"g":"Wet","x":-1.5,"y":-0.0002},{"g":"Wet","x":-1.57,"y":-0.00067},{"g":"Wet","x":-1.34,"y":-0.00124},{"g":"Wet","x":-1.04,"y":-0.0021},{"g":"Wet","x":-1.34,"y":0.00029},
 {"g":"Wet","x":-1.55,"y":0.0016},{"g":"Wet","x":-1.5,"y":0.001},{"g":"Wet","x":-1.45,"y":0.0019},{"g":"Wet","x":-1.4,"y":0.0005},{"g":"Wet","x":-1.35,"y":0.0013},{"g":"Wet","x":-1.3,"y":0.0},{"g":"Wet","x":-1.25,"y":0.0018},{"g":"Wet","x":-1.2,"y":0.0008},{"g":"Wet","x":-1.15,"y":-0.0005},{"g":"Wet","x":-1.1,"y":0.0015},{"g":"Wet","x":-1.05,"y":0.0003},{"g":"Wet","x":-1.0,"y":-0.0009},{"g":"Wet","x":-0.95,"y":0.0012},{"g":"Wet","x":-0.9,"y":0.0006},{"g":"Wet","x":-0.85,"y":-0.0003},{"g":"Wet","x":-0.8,"y":0.001},{"g":"Wet","x":-0.75,"y":-0.0012},{"g":"Wet","x":-0.7,"y":0.0002},{"g":"Wet","x":-0.65,"y":0.0011},{"g":"Wet","x":-0.6,"y":-0.0006},{"g":"Wet","x":-0.55,"y":0.0005},{"g":"Wet","x":-0.5,"y":-0.0016},{"g":"Wet","x":-0.45,"y":0.0009},{"g":"Wet","x":-0.4,"y":-0.0002},{"g":"Wet","x":-0.35,"y":-0.0022},{"g":"Wet","x":-0.3,"y":0.0004},{"g":"Wet","x":-0.25,"y":-0.0009},{"g":"Wet","x":-0.2,"y":0.0011},{"g":"Wet","x":-0.15,"y":-0.0018},{"g":"Wet","x":-0.1,"y":0.0001},{"g":"Wet","x":-0.05,"y":-0.0025},{"g":"Wet","x":0.0,"y":0.0014},{"g":"Wet","x":0.05,"y":-0.0005},{"g":"Wet","x":0.1,"y":0.0006},{"g":"Wet","x":0.15,"y":-0.0013},{"g":"Wet","x":0.2,"y":-0.0001},{"g":"Wet","x":0.25,"y":-0.0022},{"g":"Wet","x":0.3,"y":0.0003},{"g":"Wet","x":0.35,"y":-0.0009},{"g":"Wet","x":0.4,"y":-0.0017},{"g":"Wet","x":0.45,"y":-0.0004},{"g":"Wet","x":0.5,"y":-0.0026},{"g":"Wet","x":0.55,"y":-0.0011},{"g":"Wet","x":0.6,"y":-0.0002},{"g":"Wet","x":0.65,"y":-0.0019},{"g":"Wet","x":0.7,"y":-0.0008},{"g":"Wet","x":0.75,"y":-0.0028},{"g":"Wet","x":0.8,"y":-0.0014},{"g":"Wet","x":0.85,"y":-0.0006},{"g":"Wet","x":0.9,"y":-0.0021},{"g":"Wet","x":0.95,"y":-0.0011},{"g":"Wet","x":1.0,"y":-0.003},{"g":"Wet","x":1.05,"y":-0.0017},{"g":"Wet","x":1.1,"y":-0.0008},{"g":"Wet","x":1.15,"y":-0.0024},{"g":"Wet","x":1.2,"y":-0.0013},{"g":"Wet","x":1.25,"y":-0.0032},{"g":"Wet","x":1.3,"y":-0.002},{"g":"Wet","x":1.35,"y":-0.0011},{"g":"Wet","x":1.4,"y":-0.0027},{"g":"Wet","x":1.45,"y":-0.0016},{"g":"Wet","x":1.5,"y":-0.0034},{"g":"Wet","x":1.55,"y":-0.0022},{"g":"Wet","x":1.6,"y":-0.0015},{"g":"Wet","x":1.65,"y":-0.0029},{"g":"Wet","x":1.7,"y":-0.002},{"g":"Wet","x":1.75,"y":-0.0036},{"g":"Wet","x":1.8,"y":-0.0025},{"g":"Wet","x":1.85,"y":-0.0018},{"g":"Wet","x":1.9,"y":-0.0031},{"g":"Wet","x":1.95,"y":-0.0023},{"g":"Wet","x":2.0,"y":-0.0038},{"g":"Wet","x":2.05,"y":-0.0027},{"g":"Wet","x":2.1,"y":-0.0021},{"g":"Wet","x":2.15,"y":-0.0033},{"g":"Wet","x":2.2,"y":-0.0026},{"g":"Wet","x":2.25,"y":-0.004},{"g":"Wet","x":2.3,"y":-0.003},{"g":"Wet","x":2.35,"y":-0.0024},{"g":"Wet","x":2.4,"y":-0.0036},{"g":"Wet","x":2.45,"y":-0.0031},{"g":"Wet","x":2.5,"y":-0.0041},{"g":"Wet","x":2.55,"y":-0.0034},{"g":"Wet","x":2.6,"y":-0.0029},{"g":"Wet","x":2.7,"y":-0.0038},{"g":"Wet","x":2.8,"y":-0.0033},{"g":"Wet","x":2.9,"y":-0.0037},{"g":"Wet","x":3.0,"y":-0.0036},{"g":"Wet","x":3.1,"y":-0.0039},{"g":"Wet","x":-1.3,"y":0.0016},{"g":"Wet","x":-1.1,"y":0.0012},{"g":"Wet","x":-0.9,"y":0.0009},{"g":"Wet","x":-0.7,"y":0.0007},{"g":"Wet","x":-0.5,"y":0.0006},{"g":"Wet","x":-0.3,"y":0.0001},{"g":"Wet","x":-0.1,"y":-0.0003},{"g":"Wet","x":0.1,"y":-0.0002},{"g":"Wet","x":0.3,"y":-0.0006},{"g":"Wet","x":0.5,"y":-0.0009},{"g":"Wet","x":0.7,"y":-0.0013},{"g":"Wet","x":0.9,"y":-0.0015},{"g":"Wet","x":1.1,"y":-0.0017},{"g":"Wet","x":1.3,"y":-0.0018},{"g":"Wet","x":1.5,"y":-0.0021},{"g":"Wet","x":1.7,"y":-0.0024},{"g":"Wet","x":1.9,"y":-0.0026},{"g":"Wet","x":2.1,"y":-0.0029},{"g":"Wet","x":2.3,"y":-0.0027},{"g":"Wet","x":-1.2,"y":-0.0015},{"g":"Wet","x":-1.0,"y":-0.0019},{"g":"Wet","x":-0.8,"y":-0.0024},{"g":"Wet","x":-0.6,"y":-0.0023},{"g":"Wet","x":-0.4,"y":-0.0026},{"g":"Wet","x":-0.2,"y":-0.0024},{"g":"Wet","x":0.0,"y":-0.0026},{"g":"Wet","x":-1.4,"y":-0.0006},{"g":"Wet","x":-1.5,"y":-0.001},{"g":"Wet","x":-1.6,"y":0.0003},{"g":"Wet","x":-0.85,"y":-0.003},{"g":"Wet","x":-0.55,"y":-0.0029},{"g":"Wet","x":-0.15,"y":0.0008},{"g":"Wet","x":-0.05,"y":0.0018},{"g":"Wet","x":0.05,"y":0.0022},{"g":"Wet","x":0.15,"y":0.0013},{"g":"Wet","x":0.35,"y":0.0009},{"g":"Wet","x":0.55,"y":0.0004},{"g":"Wet","x":0.45,"y":0.0013},
 {"g":"Wet","x":-1.45,"y":0.0014},{"g":"Wet","x":-1.35,"y":0.0008},{"g":"Wet","x":-1.25,"y":0.0011},{"g":"Wet","x":-1.15,"y":0.0009},{"g":"Wet","x":-1.05,"y":0.001},{"g":"Wet","x":-0.95,"y":0.0004},{"g":"Wet","x":-0.85,"y":0.0007},{"g":"Wet","x":-0.75,"y":0.0004},{"g":"Wet","x":-0.65,"y":0.0002},{"g":"Wet","x":-0.55,"y":-0.0001},{"g":"Wet","x":-0.45,"y":0.0003},{"g":"Wet","x":-0.35,"y":-0.0005},{"g":"Wet","x":-0.25,"y":0.0006},{"g":"Wet","x":-0.15,"y":-0.0002},{"g":"Wet","x":-0.05,"y":0.0003},{"g":"Wet","x":0.05,"y":0.0001},{"g":"Wet","x":0.15,"y":-0.0006},{"g":"Wet","x":0.25,"y":-0.0004},{"g":"Wet","x":0.35,"y":-0.0002},{"g":"Wet","x":0.45,"y":-0.0009},{"g":"Wet","x":0.55,"y":-0.0006},{"g":"Wet","x":0.65,"y":-0.0011},{"g":"Wet","x":0.75,"y":-0.0009},{"g":"Wet","x":0.85,"y":-0.0013},{"g":"Wet","x":0.95,"y":-0.0016},{"g":"Wet","x":1.05,"y":-0.0012},{"g":"Wet","x":1.15,"y":-0.0015},{"g":"Wet","x":1.25,"y":-0.0019},{"g":"Wet","x":1.35,"y":-0.0015},{"g":"Wet","x":1.45,"y":-0.002},{"g":"Wet","x":1.55,"y":-0.0018},{"g":"Wet","x":1.65,"y":-0.0023},{"g":"Wet","x":1.75,"y":-0.0021},{"g":"Wet","x":1.85,"y":-0.0027},{"g":"Wet","x":1.95,"y":-0.0024},{"g":"Wet","x":2.05,"y":-0.0031},{"g":"Wet","x":2.15,"y":-0.0025},{"g":"Wet","x":2.25,"y":-0.0032},{"g":"Wet","x":2.35,"y":-0.0029},{"g":"Wet","x":2.45,"y":-0.0035},{"g":"Wet","x":2.55,"y":-0.003},{"g":"Wet","x":2.65,"y":-0.0034},{"g":"Wet","x":2.75,"y":-0.0036},{"g":"Wet","x":2.85,"y":-0.0034},{"g":"Wet","x":-0.9,"y":-0.0012},{"g":"Wet","x":-0.7,"y":-0.0016},{"g":"Wet","x":-0.5,"y":-0.0019},{"g":"Wet","x":-0.3,"y":-0.0014},{"g":"Wet","x":-0.1,"y":-0.0019},{"g":"Wet","x":0.1,"y":-0.002},{"g":"Wet","x":0.3,"y":-0.0025},{"g":"Wet","x":0.6,"y":-0.0028},{"g":"Wet","x":0.2,"y":-0.0032},{"g":"Wet","x":-0.2,"y":-0.0029}
 ],
 "fa": [{"x": -1.62, "y": 0.00187}, {"x": 3.07, "y": -0.00391}],
 "fb": [{"x": -1.62, "y": 0.0023}, {"x": 2.98, "y": -0.0038}]
},
"spacing": 22,
"resolve": {"scale": {"fill": "independent"}, "legend": {"fill": "independent"}},
"vconcat": [
 {
  "title": {"text": "(a)", "dx": -164, "offset": 7},
  "width": 475, "height": 293,
  "layer": [
   {"data": {"values": [{}]}, "mark": {"type": "rule", "color": "#7a7a7a", "strokeDash": [7, 3], "strokeWidth": 1.5}, "encoding": {"y": {"datum": 0, "type": "quantitative", "scale": {"domain": [-0.01, 0.004], "nice": false}}}},
   {"data": {"values": [{}]}, "mark": {"type": "rule", "color": "#7a7a7a", "strokeDash": [12, 3], "strokeWidth": 1.5}, "encoding": {"x": {"datum": 0, "type": "quantitative", "scale": {"domain": [-4, 6], "nice": false}}}},
   {"data": {"name": "a"}, "mark": {"type": "point", "shape": "circle", "filled": true, "stroke": "black", "strokeWidth": 1.3, "size": 60, "opacity": 1},
    "encoding": {
     "x": {"field": "x", "type": "quantitative", "scale": {"domain": [-4, 6], "nice": false}, "axis": {"values": [-4, -2, 0, 2, 4, 6], "format": "d", "title": "Δ𝘛ₛₒᵢₗ (℃, hourly)", "titlePadding": 6}},
     "y": {"field": "y", "type": "quantitative", "scale": {"domain": [-0.01, 0.004], "nice": false}, "axis": {"values": [-0.01, -0.008, -0.006, -0.004, -0.002, 0, 0.002, 0.004], "format": ".3f", "title": "ΔSWC (𝘮³/𝘮³, hourly)", "titlePadding": 8}},
     "fill": {"field": "g", "type": "nominal", "scale": {"domain": ["Dry", "Wet"], "range": ["white", "black"]}},
     "order": {"field": "g", "type": "nominal", "sort": "ascending"}
    }},
   {"data": {"name": "fa"}, "mark": {"type": "line", "color": "#e8262a", "strokeDash": [11, 5], "strokeWidth": 4}, "encoding": {"x": {"field": "x", "type": "quantitative"}, "y": {"field": "y", "type": "quantitative"}}},
   {"data": {"values": [{}]}, "mark": {"type": "text", "text": "y = -0.001x -0.0", "fontSize": 17, "font": "DejaVu Sans", "color": "black"}, "encoding": {"x": {"datum": 3.82, "type": "quantitative"}, "y": {"datum": 0.0031, "type": "quantitative"}}}
  ]
 },
 {
  "title": {"text": "(b)", "dx": -164, "offset": 12},
  "width": 477, "height": 294,
  "layer": [
   {"data": {"values": [{}]}, "mark": {"type": "rule", "color": "#7a7a7a", "strokeDash": [7, 3], "strokeWidth": 1.5}, "encoding": {"y": {"datum": 0, "type": "quantitative", "scale": {"domain": [-0.01, 0.004], "nice": false}}}},
   {"data": {"values": [{}]}, "mark": {"type": "rule", "color": "#7a7a7a", "strokeDash": [12, 3], "strokeWidth": 1.5}, "encoding": {"x": {"datum": 0, "type": "quantitative", "scale": {"domain": [-4, 6], "nice": false}}}},
   {"data": {"name": "b"}, "mark": {"type": "point", "shape": "circle", "filled": true, "stroke": "black", "strokeWidth": 1.3, "size": 60, "opacity": 1},
    "encoding": {
     "x": {"field": "x", "type": "quantitative", "scale": {"domain": [-4, 6], "nice": false}, "axis": {"values": [-4, -2, 0, 2, 4, 6], "format": "d", "title": "Δ𝘛ₛₒᵢₗ (℃, hourly)", "titlePadding": 6}},
     "y": {"field": "y", "type": "quantitative", "scale": {"domain": [-0.01, 0.004], "nice": false}, "axis": {"values": [-0.01, -0.008, -0.006, -0.004, -0.002, 0, 0.002, 0.004], "format": ".3f", "title": "ΔSWC (𝘮³/𝘮³, hourly)", "titlePadding": 8}},
     "fill": {"field": "g", "type": "nominal", "scale": {"domain": ["Dry", "Wet"], "range": ["white", "black"]}},
     "order": {"field": "g", "type": "nominal", "sort": "ascending"}
    }},
   {"data": {"name": "fb"}, "mark": {"type": "line", "color": "#e8262a", "strokeDash": [11, 5], "strokeWidth": 4}, "encoding": {"x": {"field": "x", "type": "quantitative"}, "y": {"field": "y", "type": "quantitative"}}},
   {"data": {"values": [{}]}, "mark": {"type": "text", "text": "y = -0.001x +0.0", "fontSize": 17, "font": "DejaVu Sans", "color": "black"}, "encoding": {"x": {"datum": 3.93, "type": "quantitative"}, "y": {"datum": 0.00314, "type": "quantitative"}}}
  ]
 }
]
}
